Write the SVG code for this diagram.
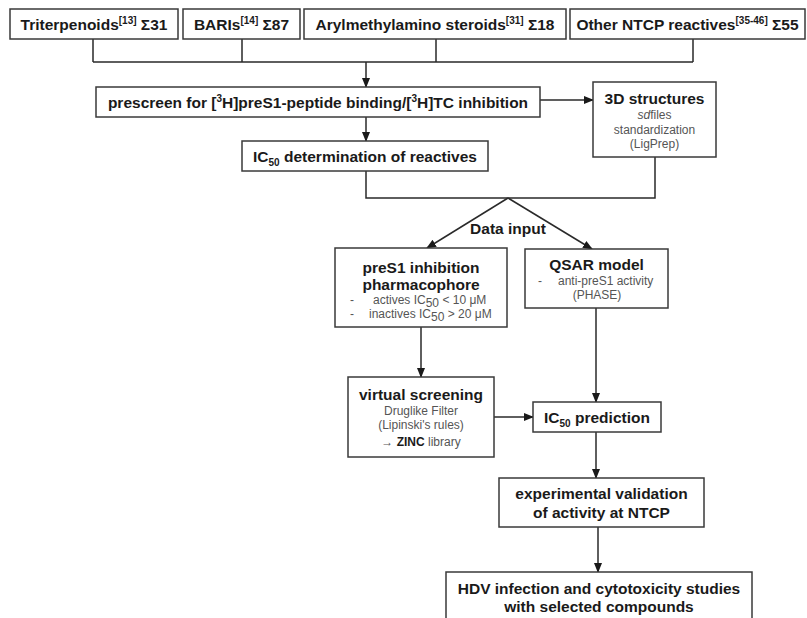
<svg xmlns="http://www.w3.org/2000/svg" width="807" height="618" viewBox="0 0 807 618">
<defs>
<style>
.box{fill:#fff;stroke:#3a3a3a;stroke-width:1.5}
.t{font-family:"Liberation Sans",Arial,sans-serif;font-weight:bold;font-size:15.5px;fill:#1a1a1a;text-anchor:middle}
.s{font-family:"Liberation Sans",Arial,sans-serif;font-size:12px;fill:#555;text-anchor:middle}
.sl{font-family:"Liberation Sans",Arial,sans-serif;font-size:12px;fill:#555}
.c{fill:none;stroke:#2a2a2a;stroke-width:1.5}
</style>
<marker id="ah" markerUnits="userSpaceOnUse" markerWidth="10" markerHeight="10" viewBox="0 0 10 10" refX="9" refY="5" orient="auto">
<path d="M0,1 L10,5 L0,9 Z" fill="#1a1a1a"/>
</marker>
</defs>
<rect width="807" height="618" fill="#fff"/>

<g id="connectors">
<path class="c" d="M93,39 V62 M242,39 V62 M436,39 V62 M693,39 V62 M93,62 H693"/>
<path class="c" d="M366,62 V87" marker-end="url(#ah)"/>
<path class="c" d="M366,117 V141" marker-end="url(#ah)"/>
<path class="c" d="M540,100 H593" marker-end="url(#ah)"/>
<path class="c" d="M366,171 V198 H655 V157"/>
<path class="c" d="M508,198 L427,248" marker-end="url(#ah)"/>
<path class="c" d="M508,198 L592,249" marker-end="url(#ah)"/>
<path class="c" d="M421,327 V377" marker-end="url(#ah)"/>
<path class="c" d="M596,308 V402" marker-end="url(#ah)"/>
<path class="c" d="M494,417 H533" marker-end="url(#ah)"/>
<path class="c" d="M596,432 V478" marker-end="url(#ah)"/>
<path class="c" d="M598,527 V572" marker-end="url(#ah)"/>
<text class="t" x="508" y="234">Data input</text>
</g>

<g id="triterpenoids">
<rect class="box" x="10" y="9" width="168" height="30"/>
<text class="t" x="94" y="30">Triterpenoids<tspan dy="-6" font-size="10">[13]</tspan><tspan dy="6"> Σ31</tspan></text>
</g>
<g id="baris">
<rect class="box" x="183" y="9" width="117" height="30"/>
<text class="t" x="241.5" y="30">BARIs<tspan dy="-6" font-size="10">[14]</tspan><tspan dy="6"> Σ87</tspan></text>
</g>
<g id="arylmethylamino">
<rect class="box" x="304" y="9" width="262" height="30"/>
<text class="t" x="435" y="30">Arylmethylamino steroids<tspan dy="-6" font-size="10">[31]</tspan><tspan dy="6"> Σ18</tspan></text>
</g>
<g id="other">
<rect class="box" x="570" y="9" width="235" height="30"/>
<text class="t" x="687.5" y="30">Other NTCP reactives<tspan dy="-6" font-size="10">[35-46]</tspan><tspan dy="6"> Σ55</tspan></text>
</g>

<g id="prescreen">
<rect class="box" x="96" y="87" width="444" height="30"/>
<text class="t" x="318" y="108">prescreen for [<tspan dy="-6" font-size="10">3</tspan><tspan dy="6">H]preS1-peptide binding/[</tspan><tspan dy="-6" font-size="10">3</tspan><tspan dy="6">H]TC inhibition</tspan></text>
</g>

<g id="structures3d">
<rect class="box" x="593" y="82" width="123" height="75"/>
<text class="t" x="654.5" y="104">3D structures</text>
<text class="s" x="654.5" y="119"><tspan font-style="italic">sd</tspan>files</text>
<text class="s" x="654.5" y="134">standardization</text>
<text class="s" x="654.5" y="148">(LigPrep)</text>
</g>

<g id="ic50determination">
<rect class="box" x="242" y="141" width="246" height="30"/>
<text class="t" x="365" y="162">IC<tspan dy="4" font-size="10">50</tspan><tspan dy="-4"> determination of reactives</tspan></text>
</g>

<g id="pharmacophore">
<rect class="box" x="335" y="248" width="172" height="79"/>
<text class="t" x="421" y="273">preS1 inhibition</text>
<text class="t" x="421" y="290">pharmacophore</text>
<text class="sl" x="350" y="304">-</text>
<text class="sl" x="373" y="304">actives  IC<tspan dy="3" font-size="12">50</tspan><tspan dy="-3"> &lt; 10 μM</tspan></text>
<text class="sl" x="350" y="318">-</text>
<text class="sl" x="369" y="318">inactives  IC<tspan dy="3" font-size="12">50</tspan><tspan dy="-3"> &gt; 20 μM</tspan></text>
</g>

<g id="qsar">
<rect class="box" x="525" y="249" width="143" height="59"/>
<text class="t" x="596.5" y="270">QSAR model</text>
<text class="sl" x="538" y="285">-</text>
<text class="sl" x="558" y="285">anti-preS1 activity</text>
<text class="s" x="597" y="299">(PHASE)</text>
</g>

<g id="virtualscreening">
<rect class="box" x="348" y="377" width="146" height="80"/>
<text class="t" x="421" y="400">virtual screening</text>
<text class="s" x="421" y="415">Druglike Filter</text>
<text class="s" x="421" y="429">(Lipinski's rules)</text>
<text class="s" x="421" y="446">→ <tspan font-weight="bold" fill="#1a1a1a">ZINC</tspan> library</text>
</g>

<g id="ic50prediction">
<rect class="box" x="533" y="402" width="128" height="30"/>
<text class="t" x="597" y="423">IC<tspan dy="4" font-size="10">50</tspan><tspan dy="-4"> prediction</tspan></text>
</g>

<g id="validation">
<rect class="box" x="499" y="478" width="205" height="49"/>
<text class="t" x="601.5" y="499">experimental validation</text>
<text class="t" x="601.5" y="518">of activity at NTCP</text>
</g>

<g id="hdv">
<rect class="box" x="446" y="572" width="306" height="60"/>
<text class="t" x="599" y="594">HDV infection and cytotoxicity studies</text>
<text class="t" x="599" y="612">with selected compounds</text>
</g>
</svg>
